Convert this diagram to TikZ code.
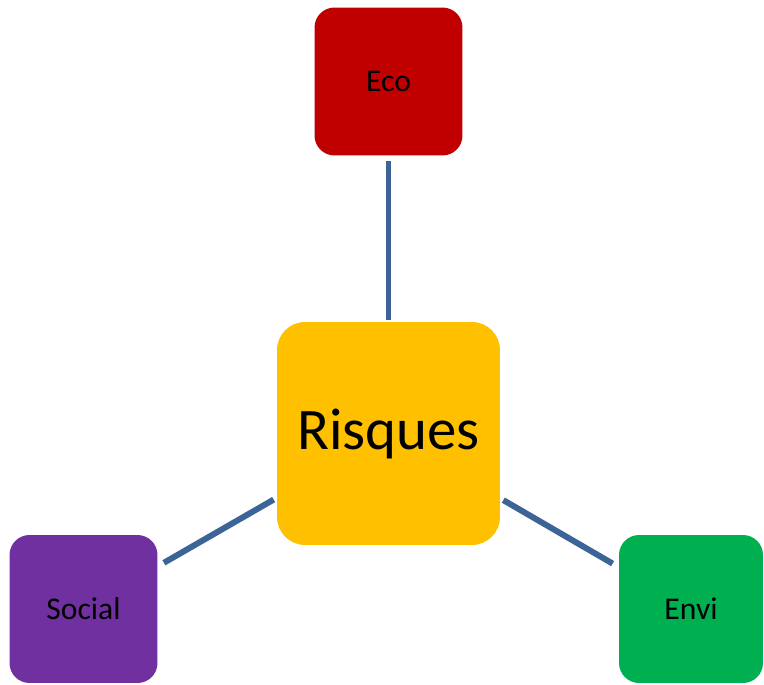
\documentclass[tikz,border=0pt]{standalone}
\usepackage{fontspec}
\setmainfont{Carlito}
\definecolor{ecored}{HTML}{C00000}
\definecolor{risqyellow}{HTML}{FFC000}
\definecolor{socialpurple}{HTML}{7030A0}
\definecolor{envigreen}{HTML}{00B050}
\definecolor{linkblue}{HTML}{3C6497}
\begin{document}
\begin{tikzpicture}[x=0.02cm, y=-0.02cm,
    box/.style={rounded corners=0.4cm, inner sep=0pt, text=black, minimum size=2.96cm, font=\fontsize{18}{21}\selectfont},
    link/.style={line width=3.4pt, linkblue}]
    \useasboundingbox (0,0) rectangle (764,685);

    % Centre
    \node[box, fill=risqyellow, minimum size=4.46cm, rounded corners=0.56cm, font=\fontsize{33.5}{40}\selectfont] (risques) at (388.5,433.5) {Risques};

    % Three corners
    \node[box, fill=ecored] (eco) at (388.5,81.5) {Eco};
    \node[box, fill=socialpurple] (social) at (83.5,609) {Social};
    \node[box, fill=envigreen, minimum width=2.88cm] (envi) at (691,609) {Envi};

    % Links
    \draw[link, shorten <=0.1cm, shorten >=0.04cm] (eco) -- (risques);
    \draw[link, shorten <=0.07cm, shorten >=0.14cm] (risques) -- (social);
    \draw[link, shorten <=0.07cm, shorten >=0.14cm] (risques) -- (envi);
\end{tikzpicture}
\end{document}
